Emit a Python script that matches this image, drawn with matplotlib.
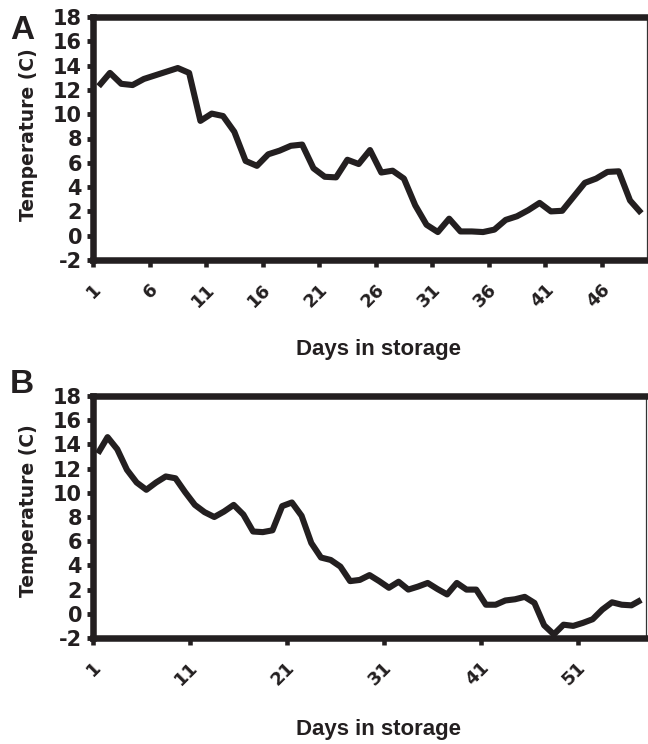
import matplotlib
matplotlib.use("Agg")
import matplotlib.pyplot as plt
import numpy as np

# daily temperatures
temp_a = [12.3, 13.4, 12.5, 12.4, 12.9, 13.2, 13.5, 13.8, 13.4, 9.45,
          10.05, 9.85, 8.55, 6.15, 5.75, 6.7, 7.0, 7.4, 7.5, 5.55,
          4.85, 4.8, 6.25, 5.9, 7.05, 5.2, 5.35, 4.7, 2.5, 0.9,
          0.3, 1.4, 0.35, 0.35, 0.3, 0.5, 1.3, 1.6, 2.1, 2.7,
          2.0, 2.05, 3.2, 4.35, 4.7, 5.25, 5.3, 2.9, 1.85]
temp_b = [13.25, 14.6, 13.6, 11.9, 10.85, 10.25, 10.85, 11.35, 11.2, 10.05,
          9.0, 8.4, 8.0, 8.45, 9.0, 8.2, 6.8, 6.75, 6.9, 8.9,
          9.2, 8.1, 5.85, 4.65, 4.45, 3.9, 2.7, 2.8, 3.2, 2.7,
          2.15, 2.65, 2.0, 2.25, 2.55, 2.05, 1.6, 2.55, 2.0, 2.0,
          0.75, 0.75, 1.1, 1.2, 1.4, 0.9, -0.95, -1.7, -0.9, -1.0,
          -0.75, -0.45, 0.35, 0.95, 0.75, 0.7, 1.15]
step_a = 5
step_b = 10
y_ticks = list(range(-2, 19, 2))

W, H = 648, 744
fig = plt.figure(figsize=(W / 100, H / 100), dpi=100)
ink = '#231f20'


def px_rect(left, top, right, bottom):
    return [left / W, 1 - bottom / H, (right - left) / W, (bottom - top) / H]


def draw_panel(rect, temps, step, letter, letter_top, xlabel_y, ylabel_y):
    ax = fig.add_axes(px_rect(*rect))
    n = len(temps)
    x = np.arange(n) + 0.5  # points sit between tick marks, like Excel
    ax.plot(x, temps, color=ink, lw=4.4, solid_joinstyle='round',
            solid_capstyle='butt', clip_on=False)
    ax.set_xlim(0, n)
    ax.set_ylim(-2, 18)

    # tick marks at category boundaries, labels at category centres
    ax.set_xticks(np.arange(0, n, step))
    ax.set_xticklabels([])
    days = np.arange(1, n + 1, step)
    ax.set_xticks(days - 0.5, [str(d) for d in days], minor=True)
    ax.tick_params(axis='x', which='minor', length=0, pad=19)
    for lbl in ax.get_xticklabels(minor=True):
        lbl.set_rotation(45)
        lbl.set_ha('right')
        lbl.set_va('center')
        lbl.set_rotation_mode('anchor')
        lbl.set_fontsize(13)
        lbl.set_fontweight('bold')
        lbl.set_family('DejaVu Sans')
        lbl.set_color(ink)
    ax.tick_params(axis='x', which='major', direction='out', length=5,
                   width=3.3, color=ink)

    ax.set_yticks(y_ticks)
    ax.set_yticklabels([str(v) for v in y_ticks], fontsize=15,
                       fontweight='bold', family='DejaVu Sans', color=ink)
    ax.tick_params(axis='y', direction='out', length=4.4, width=3.5,
                   color=ink, pad=3.5)

    for side in ['left', 'top', 'bottom']:
        ax.spines[side].set_linewidth(4.7)
        ax.spines[side].set_color(ink)
    ax.spines['right'].set_linewidth(0.9)
    ax.spines['right'].set_color('#333333')

    fig.text(379 / W, 1 - xlabel_y / H, 'Days in storage', ha='center',
             va='center', fontsize=16, fontweight='bold',
             family='Liberation Sans', color=ink)
    fig.text(29 / W, 1 - ylabel_y / H, 'Temperature (C)', rotation=90,
             ha='center', va='center', fontsize=13.5, fontweight='bold',
             family='DejaVu Sans', color=ink)
    fig.text(10 / W, 1 - letter_top / H, letter, ha='left', va='top',
             fontsize=24, fontweight='bold', family='Liberation Sans',
             color=ink)
    return ax


draw_panel((93, 17, 647, 260), temp_a, step_a, 'A', 15, 350, 135)
draw_panel((93, 396, 646, 638), temp_b, step_b, 'B', 369, 729, 511)

fig.savefig('out.png', dpi=100)
